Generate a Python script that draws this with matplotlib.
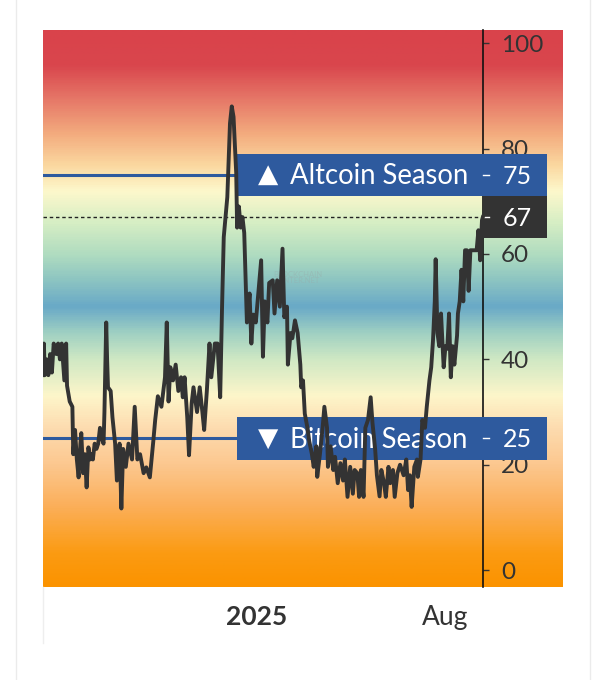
import matplotlib
matplotlib.use("Agg")
import matplotlib.pyplot as plt
import matplotlib.dates as mdates
from matplotlib.colors import LinearSegmentedColormap
from matplotlib.transforms import blended_transform_factory
from matplotlib.lines import Line2D
import numpy as np
import pandas as pd

plt.rcParams['font.family'] = ['Lato', 'DejaVu Sans']

# altcoin season index (days counted from start_date)
start_date = "2024-05-06"
days = [0, 1, 2, 4, 6, 8, 10, 12, 15, 17, 19, 21, 24, 26, 27, 30, 33, 34, 36, 38,
        40, 42, 43, 45, 47, 49, 51, 53, 55, 56, 58, 60, 62, 64, 66, 68, 69, 71, 72, 73,
        76, 78, 81, 83, 86, 88, 90, 93, 96, 100, 103, 106, 109, 113, 116, 120, 124, 126, 129, 133,
        137, 139, 141, 143, 146, 149, 152, 155, 157, 159, 162, 164, 167, 169, 173, 176, 179, 181, 184, 187,
        189, 193, 196, 199, 201, 203, 207, 210, 212, 214, 217, 218, 220, 222, 224, 226, 228, 229, 232, 234,
        236, 239, 242, 245, 247, 249, 252, 254, 258, 260, 263, 266, 269, 271, 274, 275, 278, 280, 283, 286,
        289, 290, 292, 294, 297, 299, 302, 304, 307, 308, 311, 314, 316, 319, 320, 323, 326, 328, 331, 334,
        337, 339, 342, 345, 348, 350, 353, 355, 357, 360, 362, 365, 368, 370, 373, 375, 378, 380, 383, 385,
        388, 390, 393, 395, 398, 401, 405, 408, 410, 412, 414, 417, 420, 421, 424, 426, 429, 431, 434, 436,
        438, 440, 441, 443, 445, 447, 450, 452, 454, 456, 458, 460, 462, 465, 466, 468, 470, 472, 474, 476,
        478, 480, 483, 487, 489, 491, 493, 494]
index_values = [37, 43, 37, 40, 37, 41, 37.5, 43, 41, 43, 40, 43, 36, 43, 35, 32, 31, 22, 26.6, 21,
                17.6, 24, 26, 18.4, 22, 15.7, 23.3, 21, 22, 21, 24, 23, 24, 27, 25, 24, 30, 47, 40, 34.7,
                34, 29, 24, 17, 24, 11.7, 23, 19.6, 24, 21, 31, 21, 22, 18.4, 19.5, 17.6, 24.7, 28.5, 33, 31,
                36.6, 47, 32, 38.5, 36, 39, 34, 36.6, 32.8, 36.6, 29, 21.8, 31.7, 34.7, 30, 34.7, 30, 26.6, 34, 43,
                36.6, 43, 43, 32.8, 49.3, 63.2, 70.8, 84.8, 88, 86, 75.3, 65, 69, 65, 67, 64, 53, 47, 52.5, 43,
                48.5, 47, 53, 58.8, 40.5, 51, 47, 54.5, 55, 48.7, 55, 50, 61, 48, 50, 39, 45, 44, 47.4, 45,
                39, 34.7, 36, 29.7, 27, 24.5, 22, 19.6, 23.5, 17.7, 22, 27, 31, 27, 19.6, 23.5, 19, 21.5, 16.5, 20.3,
                17, 21, 13.9, 19.6, 14.5, 19, 18.4, 13.9, 19, 13.9, 27, 28.5, 32.8, 28, 23, 18, 14, 19, 16.5, 13.9,
                19.6, 16.5, 19, 13.9, 18.4, 20, 18, 21, 15.2, 18, 12, 19.6, 21, 17.7, 21, 28.5, 27, 31, 36, 38.5,
                43.6, 51, 59, 45, 42.5, 48.7, 38.5, 42.5, 42, 48.7, 36.6, 42.5, 39, 44.5, 48.7, 51, 57, 51, 60.7, 60.7,
                53, 60.7, 60.7, 60.7, 64.5, 58.8, 66.4, 67]

altcoin_level = 75
bitcoin_level = 25
y_ticks = [0, 20, 40, 60, 80, 100]
x_tick_dates = ["2025-01-01", "2025-08-01"]
x_tick_labels = ["2025", "Aug"]

dates = pd.to_datetime(start_date) + pd.to_timedelta(days, unit="D")
last_value = index_values[-1]

# background colour band, keyed by index value
bg_stops = [(-3.2, '#fb9300'), (3, '#fb9b12'), (12, '#fbaf5a'), (20, '#fcc890'),
            (27, '#fddcb0'), (33, '#fdf6ca'), (40, '#cfe8c4'), (45, '#9fd0c2'),
            (50, '#69a9c7'), (55, '#8cc4c2'), (60, '#b0dcc0'), (66, '#d6eec4'),
            (72, '#fdf8cc'), (77, '#fbd8a0'), (83, '#f3ab7e'), (90, '#e57466'),
            (96, '#d9464d'), (102.5, '#d9434b')]
ymin, ymax = -3.2, 102.5

fig = plt.figure(figsize=(6.06, 6.8), dpi=100)
ax = fig.add_axes([43 / 606, 1 - 587 / 680, 520 / 606, 557 / 680])

x0 = dates[0]
x1 = dates[0] + pd.Timedelta(days=584)
ax.set_xlim(x0, x1)
ax.set_ylim(ymin, ymax)

cmap = LinearSegmentedColormap.from_list(
    "bg", [((v - ymin) / (ymax - ymin), c) for v, c in bg_stops])
grad = np.linspace(1, 0, 600).reshape(-1, 1)
ax.imshow(grad, aspect='auto', cmap=cmap, extent=[0, 1, 0, 1],
          transform=ax.transAxes, zorder=0, interpolation='bilinear')

trans = blended_transform_factory(ax.transAxes, ax.transData)
blue = '#2e5a9e'
box_left = 0.373
spine_frac = 0.846

# season lines + dotted current-value line
ax.axhline(altcoin_level, xmax=box_left, color=blue, lw=2.2, zorder=2)
ax.axhline(bitcoin_level, xmax=box_left, color=blue, lw=2.2, zorder=2)
ax.axhline(last_value, xmax=spine_frac, color='#222222', lw=1, ls=(0, (2.5, 2)), zorder=2)

# index line
ax.plot(dates, index_values, color='#333333', lw=2.8, zorder=7,
        solid_joinstyle='round')

# label boxes
for level, arrow, name in [(altcoin_level, '▲', 'Altcoin Season'),
                           (bitcoin_level, '▼', 'Bitcoin Season')]:
    ax.add_patch(plt.Rectangle((box_left, level - 4.05), 0.596, 8.1,
                               transform=trans, color=blue, zorder=5, lw=0))
    ax.text(0.433, level, arrow, transform=trans, color='white', fontsize=19,
            family='DejaVu Sans', ha='center', va='center', zorder=6)
    ax.text(0.475, level - 0.3, name, transform=trans, color='white', fontsize=19.8,
            ha='left', va='center', zorder=6)
    ax.plot([spine_frac, spine_frac + 0.011], [level, level], transform=trans,
            color='white', lw=1, zorder=6)
    ax.text(0.884, level - 0.3, str(level), transform=trans, color='white',
            fontsize=18, ha='left', va='center', zorder=6)

ax.add_patch(plt.Rectangle((spine_frac, last_value - 4.0), 0.123, 8.0,
                           transform=trans, color='#333333', zorder=5, lw=0))
ax.plot([spine_frac, spine_frac + 0.011], [last_value, last_value], transform=trans,
        color='white', lw=1, zorder=6)
ax.text(0.884, last_value - 0.3, f"{last_value:g}", transform=trans, color='white',
        fontsize=18, ha='left', va='center', zorder=6)

# faint watermark
ax.text(0.49, 55.5, "BLOCKCHAIN\nCENTER.NET", transform=trans, color='#9aa6a6',
        alpha=0.35, fontsize=5.5, ha='center', va='center', linespacing=0.9, zorder=1)

# right axis sitting on the last data point
for s in ['top', 'left', 'bottom']:
    ax.spines[s].set_visible(False)
ax.spines['right'].set_position(('data', mdates.date2num(dates[-1])))
ax.spines['right'].set_color('#111111')
ax.spines['right'].set_linewidth(1.2)
ax.yaxis.tick_right()
ax.set_yticks(y_ticks)
ax.tick_params(axis='y', direction='out', length=4, width=1, colors='#333333',
               labelsize=17.5, pad=9)
ax.set_axisbelow(True)

ax.set_xticks(pd.to_datetime(x_tick_dates))
ax.set_xticklabels(x_tick_labels)
ax.tick_params(axis='x', length=0, labelsize=19, colors='#333333', pad=13)
ax.get_xticklabels()[0].set_fontweight('bold')

# page frame
fig.add_artist(Line2D([16 / 606, 16 / 606], [0, 1], color='#ebebeb', lw=1))
fig.add_artist(Line2D([590 / 606, 590 / 606], [0, 1], color='#ebebeb', lw=1))
fig.add_artist(Line2D([43 / 606, 43 / 606], [1 - 643 / 680, 1 - 587 / 680],
                      color='#eeeeee', lw=1))

fig.savefig("out.png", dpi=100)
